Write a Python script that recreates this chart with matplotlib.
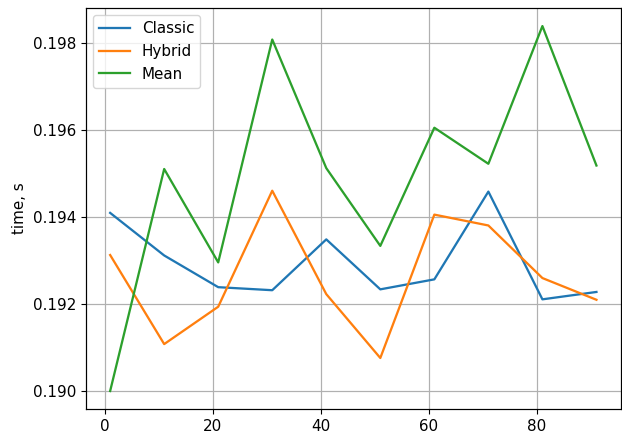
import matplotlib
matplotlib.use("Agg")
import matplotlib.pyplot as plt

steps = [1, 11, 21, 31, 41, 51, 61, 71, 81, 91]
classic = [0.19410, 0.19312, 0.19239, 0.19232, 0.19349, 0.19234, 0.19257, 0.19459, 0.19211, 0.19228]
hybrid = [0.19313, 0.19108, 0.19194, 0.19461, 0.19223, 0.19076, 0.19406, 0.19381, 0.19260, 0.19210]
mean = [0.19000, 0.19511, 0.19296, 0.19809, 0.19513, 0.19334, 0.19606, 0.19523, 0.19840, 0.19519]

# the reference looks scaled up by about 1.09
plt.rcParams["font.size"] = 10.9
plt.rcParams["lines.linewidth"] = 1.64
plt.rcParams["grid.linewidth"] = 0.87
plt.rcParams["axes.linewidth"] = 0.87

fig = plt.figure(figsize=(6.22, 4.34), dpi=100)
ax = fig.add_axes([0.138, 0.057, 0.86, 0.925])

ax.plot(steps, classic, label="Classic")
ax.plot(steps, hybrid, label="Hybrid")
ax.plot(steps, mean, label="Mean")

ax.set_ylabel("time, s")
ax.grid(True)
ax.legend(loc="upper left")

fig.savefig("out.png")
